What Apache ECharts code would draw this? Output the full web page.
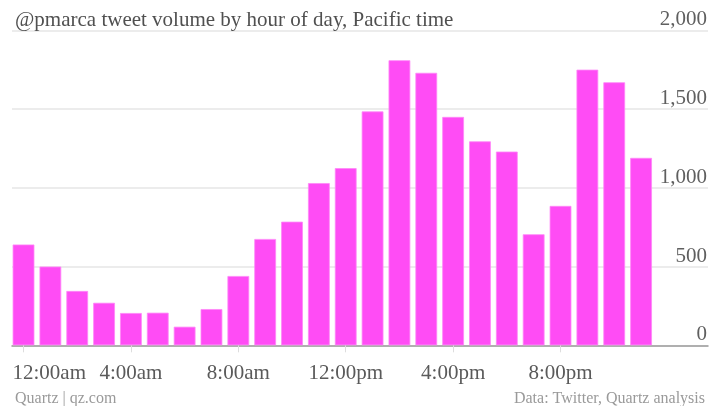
<!DOCTYPE html>
<html>
<head>
<meta charset="utf-8">
<script src="https://cdn.jsdelivr.net/npm/echarts@6/dist/echarts.min.js"></script>
<style>
  html, body { margin: 0; padding: 0; background: #fff; }
  #chart { width: 720px; height: 406px; }
</style>
</head>
<body>
<div id="chart"></div>
<script>
// Data
const titleText = '@pmarca tweet volume by hour of day, Pacific time';
const sourceLeft = 'Quartz | qz.com';
const sourceRight = 'Data: Twitter, Quartz analysis';
const hourLabels = ['12:00am','1:00am','2:00am','3:00am','4:00am','5:00am','6:00am','7:00am',
                    '8:00am','9:00am','10:00am','11:00am','12:00pm','1:00pm','2:00pm','3:00pm',
                    '4:00pm','5:00pm','6:00pm','7:00pm','8:00pm','9:00pm','10:00pm','11:00pm'];
const tweetCounts = [640, 500, 345, 270, 205, 207, 118, 230, 440, 675, 785, 1030,
                     1125, 1485, 1810, 1730, 1450, 1295, 1230, 705, 885, 1750, 1670, 1190];
const yMin = 0, yMax = 2000, yStep = 500;

const FONT = '"Liberation Serif", "DejaVu Serif", serif';
const chart = echarts.init(document.getElementById('chart'), null, { renderer: 'canvas' });

const categoryData = hourLabels.map((h, i) =>
  i === 0 ? { value: h, textStyle: { align: 'left', padding: [0, 0, 0, -11] } } : h);

chart.setOption({
  animation: false,
  backgroundColor: '#ffffff',
  title: [
    { text: titleText, left: 10, top: 5,
      textStyle: { fontFamily: FONT, fontSize: 21, fontWeight: 'normal', color: '#505050' } },
    { text: sourceLeft, left: 10, top: 386,
      textStyle: { fontFamily: FONT, fontSize: 16, fontWeight: 'normal', color: '#9a9a9a' } },
    { text: sourceRight, right: 10, top: 386,
      textStyle: { fontFamily: FONT, fontSize: 16, fontWeight: 'normal', color: '#9a9a9a' } }
  ],
  grid: [
    { left: 12, right: 12, top: 30.3, bottom: 60.7, containLabel: false },
    { left: 10.1, right: 65.5, top: 30.3, bottom: 60.7, containLabel: false }
  ],
  xAxis: [
    { type: 'value', gridIndex: 0, min: 0, max: 1,
      axisLine: { show: true, lineStyle: { color: '#9a9a9a', width: 1.5 } },
      axisTick: { show: false }, axisLabel: { show: false }, splitLine: { show: false } },
    { type: 'category', gridIndex: 1, data: categoryData, offset: 10,
      axisLine: { show: false },
      axisTick: { show: true, alignWithLabel: true, interval: 3, length: 7,
                  lineStyle: { color: '#dddddd', width: 1 } },
      axisLabel: { show: true, interval: 3, margin: 8, hideOverlap: false,
                   fontFamily: FONT, fontSize: 21, color: '#5a5a5a' } }
  ],
  yAxis: [
    { type: 'value', gridIndex: 0, position: 'right', min: yMin, max: yMax, interval: yStep,
      axisLine: { show: false }, axisTick: { show: false },
      splitLine: { show: true, lineStyle: { color: '#e6e6e6', width: 1.5 } },
      axisLabel: { inside: true, margin: 1, verticalAlign: 'bottom', align: 'right',
                   fontFamily: FONT, fontSize: 21, color: '#5f5f5f',
                   formatter: v => v.toLocaleString('en-US') } },
    { type: 'value', gridIndex: 1, min: yMin, max: yMax, interval: yStep, show: false }
  ],
  series: [{
    type: 'bar', xAxisIndex: 1, yAxisIndex: 1,
    data: tweetCounts,
    barCategoryGap: '19%',
    itemStyle: { color: '#ff4cf5', borderColor: '#ff86f8', borderWidth: 0.8 }
  }]
});
</script>
</body>
</html>
